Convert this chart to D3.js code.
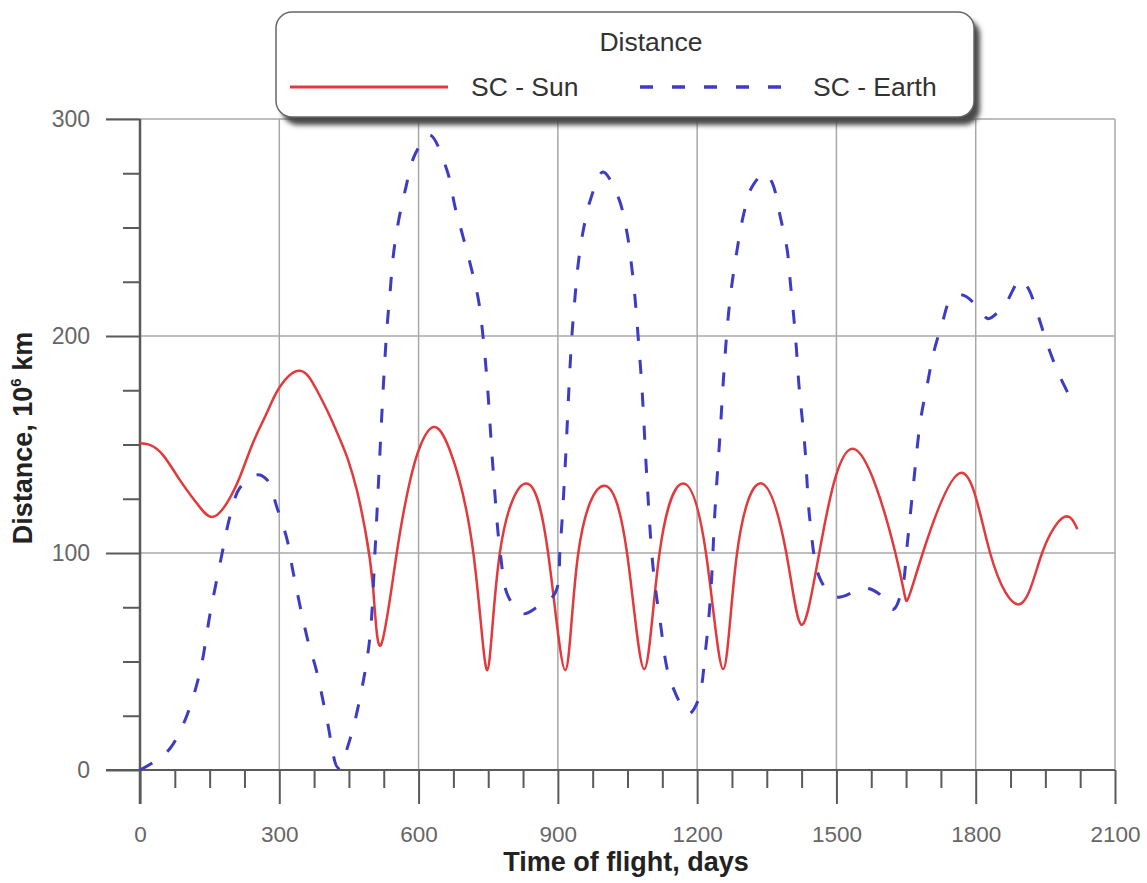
<!DOCTYPE html>
<html>
<head>
<meta charset="utf-8">
<script src="https://cdn.jsdelivr.net/npm/d3@7"></script>
<style>
  body { margin: 0; background: #fff; }
  svg text { font-family: "Liberation Sans", Arial, sans-serif; }
</style>
</head>
<body>
<div id="chart"></div>
<script>
// Chart data
const sunDays = [0, 21, 50, 86, 122, 155, 187, 215, 243, 273, 301, 345, 381, 409, 434, 448, 467, 485, 502, 519,
  553, 582, 603, 631, 668, 718, 748, 775, 832, 879, 916, 944, 1000, 1049, 1086,
  1119, 1170, 1219, 1256, 1286, 1340, 1392, 1424, 1463, 1536, 1627, 1652,
  1686, 1769, 1831, 1896, 1943, 1991, 2019];
const sunDist = [150.6, 149.8, 145, 133.6, 123, 116.6, 123, 135, 150.6, 164.5, 176.5, 184, 175, 163, 150.7, 143, 129, 110.6, 84, 57.6,
  100, 133.6, 149, 158, 147, 100, 46, 100, 132, 100, 46, 100, 131, 100, 46.5,
  100, 132, 100, 46.5, 100, 132, 100, 67, 100, 148, 100, 78,
  100, 137, 100, 76.5, 100, 116.6, 111];

const earthDays = [0, 32, 65, 97, 129, 151, 177, 194, 215, 252, 274, 295, 317, 330, 360, 381, 402, 427,
  452, 481, 496, 506, 514, 524, 532, 539, 545, 556, 571, 593, 624, 661, 679, 696, 715, 729, 739, 748, 761,
  776, 793, 825, 855, 894, 905, 916, 924, 930, 937, 944, 955, 970, 997, 1030, 1049, 1059, 1066, 1073, 1081,
  1092, 1105, 1120, 1142, 1182, 1202, 1219, 1230, 1238, 1250, 1256, 1261, 1267, 1275, 1286, 1299, 1318, 1346,
  1362, 1379, 1394, 1401, 1408, 1414, 1419, 1432, 1443, 1463, 1493, 1514, 1560, 1590, 1622, 1642, 1652, 1667,
  1681, 1696, 1709, 1728, 1745, 1766, 1781, 1809, 1827, 1864, 1896, 1913, 1935, 1956, 1982, 2015];
const earthDist = [0, 4, 10, 23, 45, 72, 100, 117, 130, 136, 133.6, 121, 106, 91, 61, 45, 24, 1,
  14, 41, 63, 100, 134, 176.5, 204, 221, 236, 252, 267, 284, 292.6, 276.5, 259, 245.6, 230, 216.6, 199.5, 178, 137,
  100, 80, 72, 75, 81.5, 103, 141, 176.5, 199.5, 218, 233.6, 249, 262.7, 275.6, 264, 247.5, 232, 218, 199.5, 176.5,
  133.6, 93.5, 69, 41.5, 26, 32, 57, 84, 118, 157, 178, 193.5, 209, 224, 239.6, 255, 268.7, 275,
  270.5, 255, 239.6, 224, 209, 193.5, 178, 149, 115, 89, 80, 80, 84, 81.5, 74, 84, 103, 134,
  161, 178, 192, 206, 216.6, 219, 218, 212, 208, 215, 226, 222, 209, 195, 181, 167];

const xMajor = [0, 300, 600, 900, 1200, 1500, 1800, 2100];
const yMajor = [0, 100, 200, 300];

const legendTitle = 'Distance';
const seriesNames = ['SC - Sun', 'SC - Earth'];

const W = 1147, H = 883;
const RED = '#e23a3c', BLUE = '#3c3cc4', GRID = '#a8a8a8', AXIS = '#5a5a5a';

const svg = d3.select('#chart').append('svg')
  .attr('width', W).attr('height', H);

const x = d3.scaleLinear().domain([0, 2100]).range([140, 1115]);
const y = d3.scaleLinear().domain([0, 300]).range([770, 119]);

// Grid lines
svg.append('g').selectAll('line')
  .data(xMajor.slice(1, -1))
  .join('line')
  .attr('x1', d => x(d)).attr('x2', d => x(d))
  .attr('y1', y(300)).attr('y2', y(0))
  .attr('stroke', GRID).attr('stroke-width', 1.5);

svg.append('g').selectAll('line')
  .data([100, 200])
  .join('line')
  .attr('x1', x(0)).attr('x2', x(2100))
  .attr('y1', d => y(d)).attr('y2', d => y(d))
  .attr('stroke', GRID).attr('stroke-width', 1.5);

// Top and right borders
svg.append('line')
  .attr('x1', x(0) - 34).attr('x2', x(2100))
  .attr('y1', y(300)).attr('y2', y(300))
  .attr('stroke', GRID).attr('stroke-width', 1.5);
svg.append('line')
  .attr('x1', x(2100)).attr('x2', x(2100))
  .attr('y1', y(300)).attr('y2', y(0))
  .attr('stroke', GRID).attr('stroke-width', 1.5);

const fmt = d3.format('d');

// X axis: major + minor ticks
const xMinor = d3.range(0, 2101, 75).filter(d => d % 300 !== 0);
const xAxisMinor = d3.axisBottom(x).tickValues(xMinor).tickSize(18).tickFormat('');
const xAxisMajor = d3.axisBottom(x).tickValues(xMajor).tickSize(34).tickPadding(22).tickFormat(fmt);

svg.append('g').attr('transform', `translate(0,${y(0)})`).call(xAxisMinor)
  .call(g => g.select('.domain').remove())
  .call(g => g.selectAll('line').attr('stroke', AXIS).attr('stroke-width', 2));

svg.append('g').attr('transform', `translate(0,${y(0)})`).call(xAxisMajor)
  .call(g => g.select('.domain').remove())
  .call(g => g.selectAll('line').attr('stroke', AXIS).attr('stroke-width', 2))
  .call(g => g.selectAll('text')
    .attr('font-size', 22.5).attr('fill', '#666')
    .style('font-family', '"Liberation Sans", Arial, sans-serif'));

svg.append('line')
  .attr('x1', x(0) - 34).attr('x2', x(2100))
  .attr('y1', y(0)).attr('y2', y(0))
  .attr('stroke', AXIS).attr('stroke-width', 2);

// Y axis
const yMinor = d3.range(0, 301, 25).filter(d => d % 100 !== 0);
const yAxisMinor = d3.axisLeft(y).tickValues(yMinor).tickSize(17).tickFormat('');
const yAxisMajor = d3.axisLeft(y).tickValues(yMajor).tickSize(34).tickPadding(16).tickFormat(fmt);

svg.append('g').attr('transform', `translate(${x(0)},0)`).call(yAxisMinor)
  .call(g => g.select('.domain').remove())
  .call(g => g.selectAll('line').attr('stroke', AXIS).attr('stroke-width', 2));

svg.append('g').attr('transform', `translate(${x(0)},0)`).call(yAxisMajor)
  .call(g => g.select('.domain').remove())
  .call(g => g.selectAll('line').attr('stroke', AXIS).attr('stroke-width', 2))
  .call(g => g.selectAll('text')
    .attr('font-size', 23).attr('fill', '#666')
    .style('font-family', '"Liberation Sans", Arial, sans-serif'));

svg.append('line')
  .attr('x1', x(0)).attr('x2', x(0))
  .attr('y1', y(300)).attr('y2', y(0) + 34)
  .attr('stroke', AXIS).attr('stroke-width', 2.5);

// Series: natural spline keeps the Sun curve smooth, Catmull-Rom for the steeper Earth curve
const sunLine = d3.line().curve(d3.curveNatural).x(d => x(d[0])).y(d => y(d[1]));
const earthLine = d3.line().curve(d3.curveCatmullRom.alpha(0.5)).x(d => x(d[0])).y(d => y(d[1]));

svg.append('path')
  .datum(sunDays.map((d, i) => [d, sunDist[i]]))
  .attr('d', sunLine)
  .attr('fill', 'none').attr('stroke', RED).attr('stroke-width', 2.5);

svg.append('path')
  .datum(earthDays.map((d, i) => [d, earthDist[i]]))
  .attr('d', earthLine)
  .attr('fill', 'none').attr('stroke', BLUE).attr('stroke-width', 3)
  .attr('stroke-dasharray', '14,19');

// Axis titles
svg.append('text')
  .attr('x', 626).attr('y', 871)
  .attr('text-anchor', 'middle')
  .attr('font-size', 27).attr('font-weight', 'bold').attr('fill', '#222')
  .text('Time of flight, days');

const yTitle = svg.append('text')
  .attr('transform', 'translate(32,438) rotate(-90)')
  .attr('text-anchor', 'middle')
  .attr('font-size', 27).attr('font-weight', 'bold').attr('fill', '#222');
yTitle.append('tspan').text('Distance, 10');
yTitle.append('tspan').attr('font-size', 15).attr('dy', -11).text('6');
yTitle.append('tspan').attr('dy', 11).text(' km');

// Legend
const defs = svg.append('defs');
const f = defs.append('filter').attr('id', 'shadow')
  .attr('x', '-5%').attr('y', '-20%').attr('width', '115%').attr('height', '150%');
f.append('feGaussianBlur').attr('stdDeviation', 2.5);

const lg = svg.append('g');
lg.append('rect')
  .attr('x', 282).attr('y', 19).attr('width', 698).attr('height', 106).attr('rx', 16)
  .attr('fill', '#4a4a4a').attr('filter', 'url(#shadow)');
lg.append('rect')
  .attr('x', 276).attr('y', 12).attr('width', 698).attr('height', 105).attr('rx', 16)
  .attr('fill', '#fff').attr('stroke', '#666').attr('stroke-width', 1.5);

lg.append('text')
  .attr('x', 651).attr('y', 51).attr('text-anchor', 'middle')
  .attr('font-size', 26.5).attr('fill', '#333')
  .text(legendTitle);

lg.append('line')
  .attr('x1', 290).attr('x2', 448).attr('y1', 87).attr('y2', 87)
  .attr('stroke', RED).attr('stroke-width', 3);
lg.append('text')
  .attr('x', 471).attr('y', 96)
  .attr('font-size', 26.5).attr('fill', '#333')
  .text(seriesNames[0]);

lg.append('line')
  .attr('x1', 640).attr('x2', 795).attr('y1', 87).attr('y2', 87)
  .attr('stroke', BLUE).attr('stroke-width', 3.5).attr('stroke-dasharray', '13,19');
lg.append('text')
  .attr('x', 813).attr('y', 96)
  .attr('font-size', 26.5).attr('fill', '#333')
  .text(seriesNames[1]);
</script>
</body>
</html>
